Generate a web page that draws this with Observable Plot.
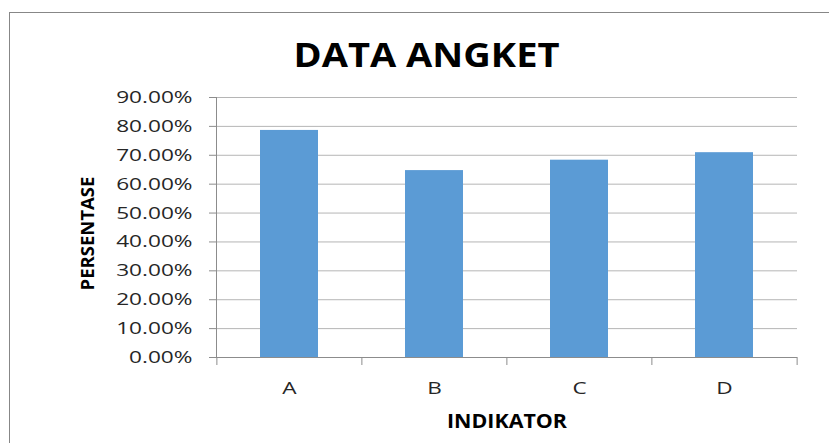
<!DOCTYPE html>
<html>
<head>
<meta charset="utf-8">
<script src="https://cdn.jsdelivr.net/npm/d3@7"></script>
<script src="https://cdn.jsdelivr.net/npm/@observablehq/plot@0.6"></script>
<style>
  html, body { margin: 0; padding: 0; background: #fff; overflow: hidden; }
  #wrap { position: relative; width: 829px; height: 443px; }
  #border { position: absolute; left: 9px; top: 12px; width: 840px; height: 460px;
            border-left: 1px solid #878787; border-top: 1px solid #878787; pointer-events: none; }
</style>
</head>
<body>
<div id="wrap"><div id="border"></div></div>
<script>
const categories = ["A", "B", "C", "D"];
const values = [0.786, 0.647, 0.683, 0.709];
const yTicks = [0, 0.1, 0.2, 0.3, 0.4, 0.5, 0.6, 0.7, 0.8, 0.9];
const titleText = "DATA ANGKET";
const xLabel = "INDIKATOR";
const yLabel = "PERSENTASE";

const data = categories.map((k, i) => ({k, v: values[i]}));
const W = 829, H = 443, mL = 216, mR = 32, mT = 97, mB = 86;
const step = (W - mL - mR) / categories.length;

const chart = Plot.plot({
  width: W, height: H,
  marginLeft: mL, marginRight: mR, marginTop: mT, marginBottom: mB,
  style: {fontFamily: "'Open Sans', sans-serif", fontSize: "17px", color: "#262626", background: "transparent", overflow: "visible"},
  x: {domain: categories, paddingInner: 0.6, paddingOuter: 0.3, axis: null},
  y: {domain: [0, 0.9], axis: null},
  marks: [
    Plot.gridY(yTicks, {stroke: "#b5b5b5", strokeOpacity: 1}),
    Plot.barY(data, {x: "k", y: "v", fill: "#5b9bd5"}),
    Plot.ruleY([0], {stroke: "#8c8c8c"}),
    Plot.frame({anchor: "left", stroke: "#8c8c8c"}),
    Plot.axisY(yTicks, {tickFormat: d3.format(".2%"), tickSize: 7, tickPadding: 17, stroke: "#8c8c8c", fill: "#262626", label: null}),
    Plot.axisX({tickSize: 0, tickPadding: 24, fill: "#262626", label: null}),
    Plot.axisX({tickSize: 8, tickFormat: () => "", dx: -step / 2, stroke: "#8c8c8c", label: null}),
    Plot.axisX(["D"], {tickSize: 8, tickFormat: () => "", dx: step / 2, stroke: "#8c8c8c", label: null}),
    Plot.text([titleText], {frameAnchor: "top", lineAnchor: "bottom", dy: 66 - mT, dx: 426 - (mL + (W - mL - mR) / 2),
      fontSize: 34, fontWeight: "bold", fill: "#000"}),
    Plot.text([xLabel], {frameAnchor: "bottom", lineAnchor: "bottom", dy: 427 - (H - mB),
      fontSize: 19, fontWeight: "bold", fill: "#000"}),
    Plot.text([yLabel], {frameAnchor: "left", textAnchor: "middle", lineAnchor: "bottom", rotate: -90, dx: 93 - mL, dy: 233 - (mT + (H - mT - mB) / 2),
      fontSize: 18.5, fontWeight: "bold", fill: "#000"})
  ]
});
const wrap = document.getElementById("wrap");
wrap.insertBefore(chart, wrap.firstChild);
chart.style.position = "absolute";
chart.style.left = "0px";
chart.style.top = "0px";

const targets = {[titleText]: 266, [xLabel]: 120};
chart.querySelectorAll("text").forEach(t => {
  const s = t.textContent;
  if (!s || s === yLabel) return;
  const len = targets[s] ?? t.getComputedTextLength() * 1.33;
  t.setAttribute("textLength", len);
  t.setAttribute("lengthAdjust", "spacingAndGlyphs");
});
</script>
</body>
</html>
